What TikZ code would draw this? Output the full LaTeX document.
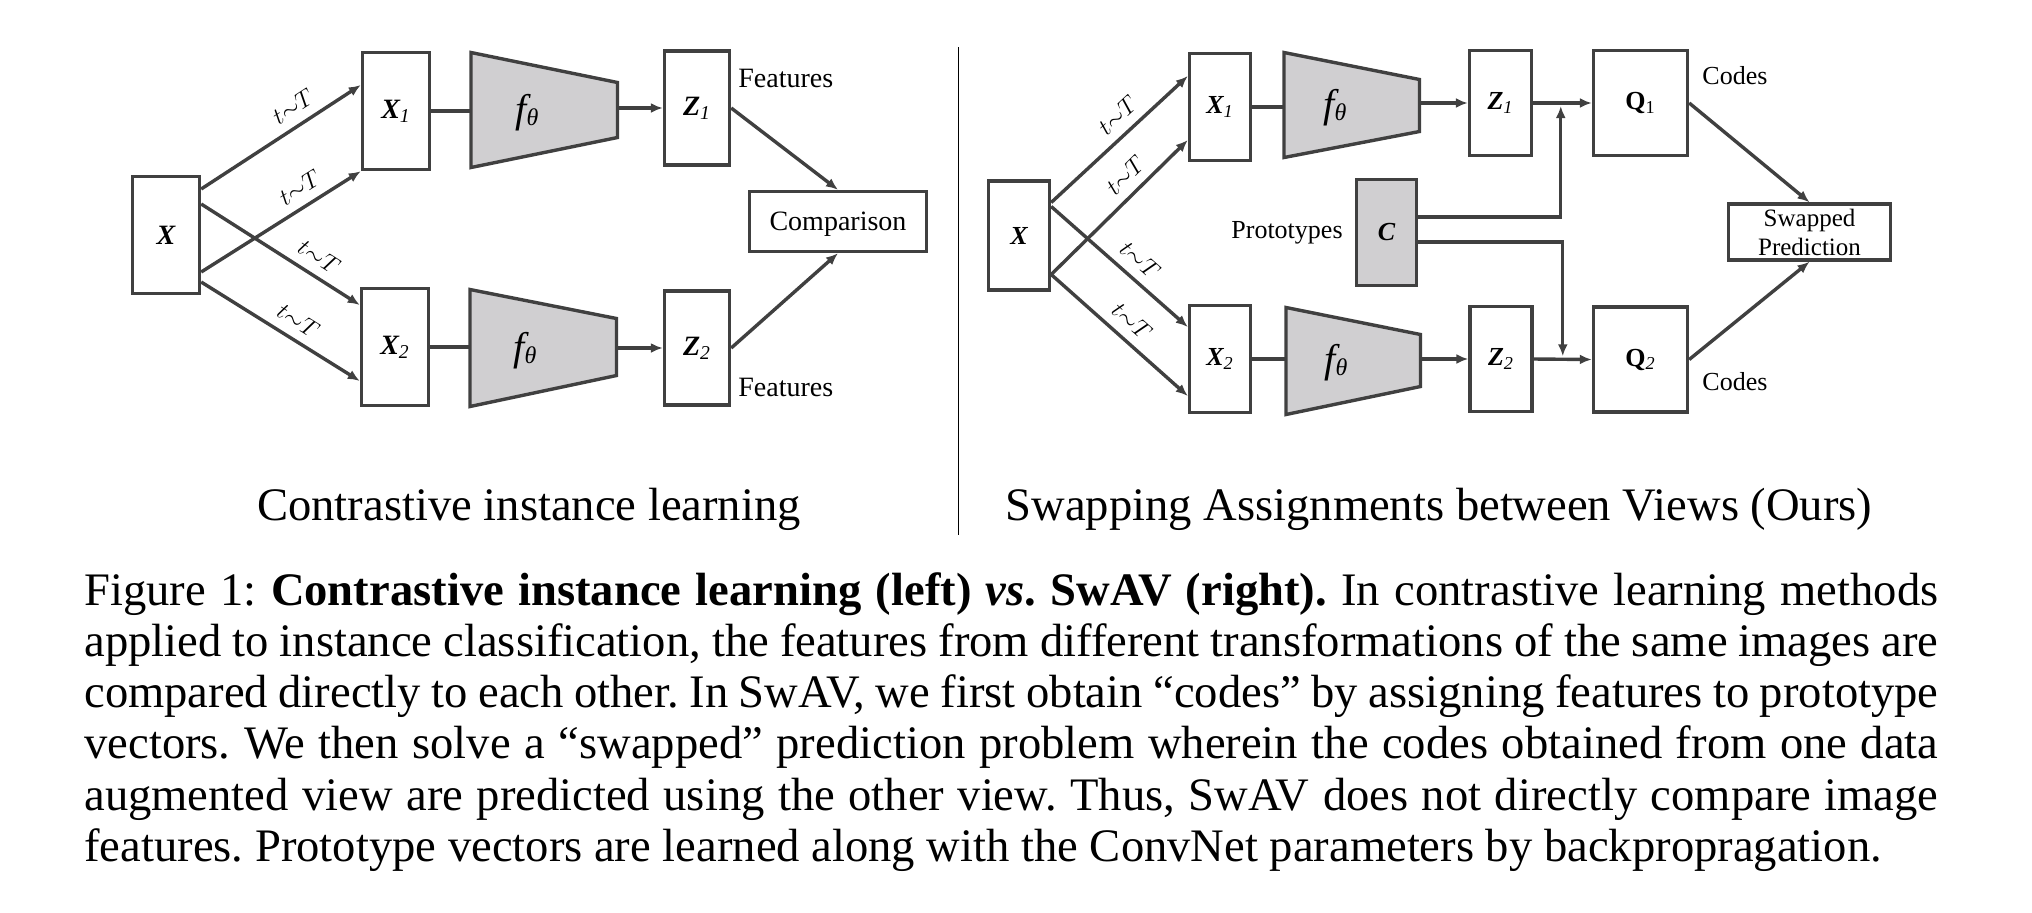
\documentclass[tikz,border=0pt]{standalone}
\usepackage{fontspec}
\setmainfont{Liberation Serif}
\usetikzlibrary{arrows.meta,calc}
\definecolor{lc}{RGB}{64,64,64}
\definecolor{fillg}{RGB}{208,207,209}
\frenchspacing
\begin{document}
\begin{tikzpicture}[x=0.5pt,y=-0.5pt,
  box/.style={draw=lc, line width=1.7pt, fill=white, inner sep=0pt, font=\fontsize{14}{16}\selectfont},
  rbox/.style={box, font=\fontsize{13}{15}\selectfont},
  gbox/.style={rbox, fill=fillg},
  arr/.style={draw=lc, line width=1.7pt, -{Latex[length=6pt,width=5pt]}},
  ln/.style={draw=lc, line width=1.7pt},
  trap/.style={draw=lc, fill=fillg, line width=1.7pt, line join=miter},
  lab/.style={font=\fontsize{13}{13}\selectfont, inner sep=1pt, sloped, above=3.5pt},
  txt/.style={font=\fontsize{14}{16}\selectfont, inner sep=0pt},
  rtxt/.style={font=\fontsize{13}{15}\selectfont, inner sep=0pt},
  ftxt/.style={inner sep=0pt},
  captxt/.style={anchor=base west, inner sep=0pt, font=\fontsize{23.3}{25.65}\selectfont},
  subt/.style={anchor=base, inner sep=0pt, font=\fontsize{23.3}{25.65}\selectfont}
]
\useasboundingbox (0,0) rectangle (2032,912);
\newcommand{\ftheta}{{\fontsize{20}{20}\selectfont\itshape f}\raisebox{-1.5pt}{\fontsize{12}{12}\selectfont\itshape θ}}

% ---------------- LEFT ----------------
\node[box, minimum width=33.5pt, minimum height=58.5pt] (LX) at (166,235) {\bfseries\itshape X};
\node[box, minimum width=33.5pt, minimum height=58.5pt] (LX1) at (396,111) {{\bfseries\itshape X}\textsubscript{\itshape 1}};
\node[box, minimum width=33.5pt, minimum height=58.5pt] (LX2) at (395,347) {{\bfseries\itshape X}\textsubscript{\itshape 2}};
\node[box, minimum width=32.5pt, minimum height=57pt] (LZ1) at (697,108) {{\bfseries\itshape Z}\textsubscript{\itshape 1}};
\node[box, minimum width=32.5pt, minimum height=57pt] (LZ2) at (697,348) {{\bfseries\itshape Z}\textsubscript{\itshape 2}};
\node[box, minimum width=88.5pt, minimum height=30pt, text depth=0pt] (cmp) at (838,221.5) {Comparison};

\draw[trap] (471,52.5) -- (617.5,82.5) -- (617.5,137.5) -- (471,167.5) -- cycle;
\draw[trap] (470,289.5) -- (616.5,318.5) -- (616.5,375.5) -- (470,406.5) -- cycle;
\coordinate (f1w) at (471,111);
\coordinate (f1e) at (617.5,108);
\coordinate (f2w) at (470,347);
\coordinate (f2e) at (616.5,348);
\node[ftxt] (lf1) at (527,113) {\ftheta};
\node[ftxt] (lf2) at (525,351) {\ftheta};

\draw[ln] (LX1.east |- f1w) -- (f1w);
\draw[ln] (LX2.east |- f2w) -- (f2w);
\draw[arr] (f1e) -- (LZ1.west);
\draw[arr] (f2e) -- (LZ2.west);
\draw[arr] (LZ1.east) -- (cmp.north);
\draw[arr] (LZ2.east) -- (cmp.south);

\node[txt, anchor=west] (feat1) at (738,78) {Features};
\node[txt, anchor=west] (feat2) at (738,387) {Features};

\coordinate (la1) at ($(LX.east)+(0,-46)$);
\coordinate (la2) at ($(LX.east)+(0,37)$);
\coordinate (la3) at ($(LX.east)+(0,-31)$);
\coordinate (la4) at ($(LX.east)+(0,47)$);
\draw[arr] (la1) -- node[lab, pos=0.64] {$t{\sim}T$} ($(LX1.west)+(0,-26)$);
\draw[arr] (la2) -- node[lab, pos=0.68] {$t{\sim}T$} (LX1.south west);
\draw[arr] (la3) -- node[lab, pos=0.68] {$t{\sim}T$} ($(LX2.west)+(0,-42)$);
\draw[arr] (la4) -- node[lab, pos=0.55] {$t{\sim}T$} ($(LX2.west)+(0,34)$);

% separator
\coordinate (sepT) at (958.5,47);
\coordinate (sepB) at (958.5,535);
\draw[black, line width=0.7pt] (sepT) -- (sepB);

% ---------------- RIGHT ----------------
\node[rbox, minimum width=30.5pt, minimum height=54.5pt] (RX) at (1019,235.5) {\bfseries\itshape X};
\node[rbox, minimum width=30.5pt, minimum height=53.5pt] (RX1) at (1220,107) {{\bfseries\itshape X}\textsubscript{\itshape 1}};
\node[rbox, minimum width=30.5pt, minimum height=53.5pt] (RX2) at (1220,359) {{\bfseries\itshape X}\textsubscript{\itshape 2}};
\node[rbox, minimum width=31pt, minimum height=52.5pt] (RZ1) at (1500.5,103) {{\bfseries\itshape Z}\textsubscript{\itshape 1}};
\node[rbox, minimum width=31pt, minimum height=52.5pt] (RZ2) at (1501,359) {{\bfseries\itshape Z}\textsubscript{\itshape 2}};
\node[rbox, minimum width=47pt, minimum height=52.5pt] (Q1) at (1640.5,103) {{\bfseries Q}\textsubscript{1}};
\node[rbox, minimum width=47pt, minimum height=52.5pt] (Q2) at (1640.5,359.5) {{\bfseries Q}\textsubscript{\itshape 2}};
\node[gbox, minimum width=30pt, minimum height=53pt] (C) at (1386.5,232.5) {\bfseries\itshape C};
\node[rbox, minimum width=81pt, minimum height=28pt, align=center, font=\fontsize{12.5}{14.5}\selectfont] (SP) at (1809.5,232) {Swapped\\Prediction};

\draw[trap] (1284,52.5) -- (1419.5,79.5) -- (1419.5,131.5) -- (1284,157.5) -- cycle;
\draw[trap] (1286,307.5) -- (1420.5,334.5) -- (1420.5,386.5) -- (1286,414.5) -- cycle;
\coordinate (g1w) at (1284,107);
\coordinate (g1e) at (1419.5,103);
\coordinate (g2w) at (1286,359);
\coordinate (g2e) at (1420.5,359);
\node[ftxt] (rf1) at (1335,108) {\ftheta};
\node[ftxt] (rf2) at (1336,363) {\ftheta};

\draw[ln] (RX1.east |- g1w) -- (g1w);
\draw[ln] (RX2.east |- g2w) -- (g2w);
\draw[arr] (g1e) -- (RZ1.west);
\draw[arr] (g2e) -- (RZ2.west);
\draw[arr] (RZ1.east) -- (Q1.west);
\draw[arr] (RZ2.east) -- (Q2.west);
\draw[arr] (Q1.east) -- (SP.north);
\draw[arr] (Q2.east) -- (SP.south);

\coordinate (cu) at ($(C.east)+(0,-15.5)$);
\coordinate (cl) at ($(C.east)+(0,9.5)$);
\coordinate (j1) at ($(RZ1.east)!0.47!(Q1.west)$);
\coordinate (j2) at ($(RZ2.east)!0.5!(Q2.west)$);
\draw[arr, shorten >=1.5pt] (cu) -| (j1);
\draw[arr, shorten >=1.5pt] (cl) -| (j2);

\node[rtxt, anchor=east] (proto) at (1343,233) {Prototypes};
\node[rtxt, anchor=west] (codes1) at (1702,76) {Codes};
\node[rtxt, anchor=west] (codes2) at (1702,382) {Codes};

\coordinate (ra1) at ($(RX.east)+(0,-33)$);
\coordinate (ra2) at ($(RX.east)+(0,39)$);
\coordinate (ra3) at ($(RX.east)+(0,-29)$);
\draw[arr] (ra1) -- node[lab, pos=0.58] {$t{\sim}T$} ($(RX1.west)+(0,-31)$);
\draw[arr] (ra2) -- node[lab, pos=0.64] {$t{\sim}T$} ($(RX1.west)+(0,33)$);
\draw[arr] (ra3) -- node[lab, pos=0.56] {$t{\sim}T$} ($(RX2.west)+(0,-32)$);
\draw[arr] (ra2) -- node[lab, pos=0.50] {$t{\sim}T$} ($(RX2.west)+(0,37)$);

% ---------------- SUBTITLES ----------------
\node[subt] (st1) at (529,520) {Contrastive instance learning};
\node[subt] (st2) at (1439,520) {Swapping Assignments between Views (Ours)};

% ---------------- CAPTION ----------------
\node[captxt] (cap1) at (84,605) {\makebox[927pt][s]{Figure 1: \textbf{Contrastive instance learning (left) \textit{vs}. SwAV (right).} In contrastive learning methods}};
\node[captxt] (cap2) at (84,656.3) {\makebox[927pt][s]{applied to instance classification, the features from different transformations of the same images are}};
\node[captxt] (cap3) at (84,707.6) {\makebox[927pt][s]{compared directly to each other. In SwAV, we first obtain “codes” by assigning features to prototype}};
\node[captxt] (cap4) at (84,758.9) {\makebox[927pt][s]{vectors. We then solve a “swapped” prediction problem wherein the codes obtained from one data}};
\node[captxt] (cap5) at (84,810.2) {\makebox[927pt][s]{augmented view are predicted using the other view. Thus, SwAV does not directly compare image}};
\node[captxt] (cap6) at (84,861.5) {features. Prototype vectors are learned along with the ConvNet parameters by backpropragation.};
\end{tikzpicture}
\end{document}
